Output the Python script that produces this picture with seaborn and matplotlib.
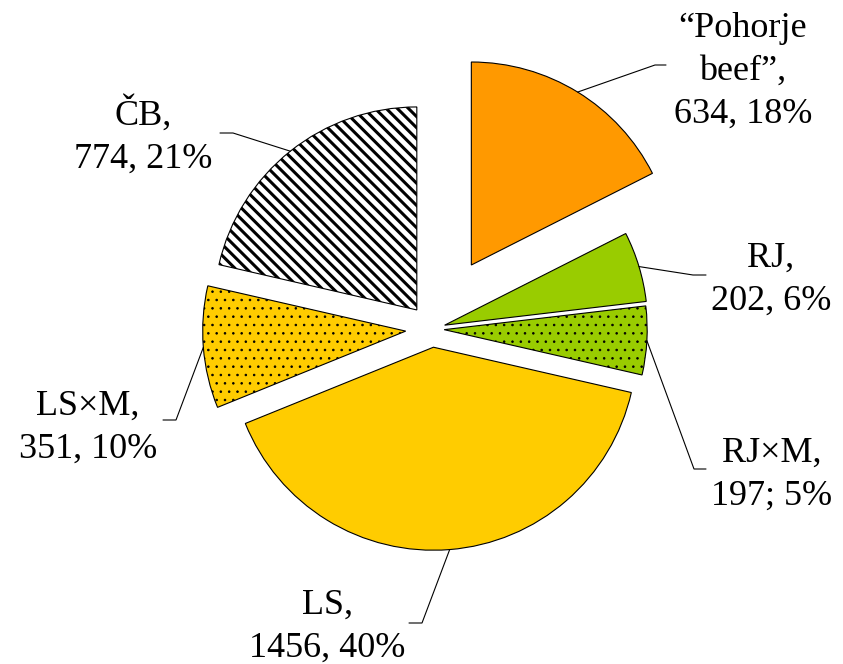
import numpy as np
import seaborn as sns
import matplotlib
matplotlib.use("Agg")
import matplotlib.pyplot as plt

# breed groups, clockwise from 12 o'clock
breeds = ["\u201cPohorje\nbeef\u201d", "RJ", "RJ\u00d7M", "LS", "LS\u00d7M", "\u010cB"]
counts = [634, 202, 197, 1456, 351, 774]
shares = ["18%", "6%", "5%", "40%", "10%", "21%"]
separators = [", ", ", ", "; ", ", ", ", ", ", "]

colors = ["#FF9900", "#99CC00", "#99CC00", "#FFCC00", "#FFCC00", "#FFFFFF"]
hatches = ["", "", "..", "", "..", "\\\\\\"]
explode = [0.37, 0.065, 0.06, 0.09, 0.13, 0.12]

# layout in pixels: last-line baseline of each label, leader elbow and end
label_pos = [(743, 123), (771, 310), (772, 505), (327, 657), (88, 458), (143, 168)]
leader_elbow = [(655, 65), (693, 275), (694, 469), (422, 623), (176, 420), (233, 133)]
leader_end = [(666, 65), (706, 275), (706, 469), (409, 623), (163, 420), (220, 133)]

W, H = 843, 664
SCALE = 203
CX, CY = 432, 329


def px(x, y):
    return (x - CX) / SCALE, (CY - y) / SCALE


sns.set_theme(style="white")
plt.rcParams["font.family"] = ["Liberation Serif", "DejaVu Serif"]
plt.rcParams["hatch.linewidth"] = 0.6

fig = plt.figure(figsize=(W / 100, H / 100), dpi=100)
ax = fig.add_axes([0, 0, 1, 1])

wedges, _ = ax.pie(
    counts,
    explode=explode,
    startangle=90,
    counterclock=False,
    colors=colors,
    hatch=hatches,
    wedgeprops=dict(edgecolor="black", linewidth=0.8),
)

for w, h in zip(wedges, hatches):
    if hasattr(w, "set_hatch_linewidth"):
        if "\\" in h:
            w.set_hatch_linewidth(2.2)
        elif h:
            w.set_hatch_linewidth(0.6)

for i, w in enumerate(wedges):
    mid = np.deg2rad((w.theta1 + w.theta2) / 2)
    sx = w.center[0] + w.r * np.cos(mid)
    sy = w.center[1] + w.r * np.sin(mid)
    ex, ey = px(*leader_elbow[i])
    fx, fy = px(*leader_end[i])
    ax.plot([sx, ex, fx], [sy, ey, fy], color="black", linewidth=0.8)

    tx, ty = px(*label_pos[i])
    ax.text(tx, ty, f"{breeds[i]},\n{counts[i]}{separators[i]}{shares[i]}",
            ha="center", va="baseline", multialignment="center",
            fontsize=26, linespacing=1.4, color="black")

x0, _ = px(0, 0)
x1, _ = px(W, 0)
_, y0 = px(0, H)
_, y1 = px(0, 0)
ax.set_xlim(x0, x1)
ax.set_ylim(y0, y1)
ax.set_aspect("equal")
ax.axis("off")

fig.savefig("out.png", dpi=100)
